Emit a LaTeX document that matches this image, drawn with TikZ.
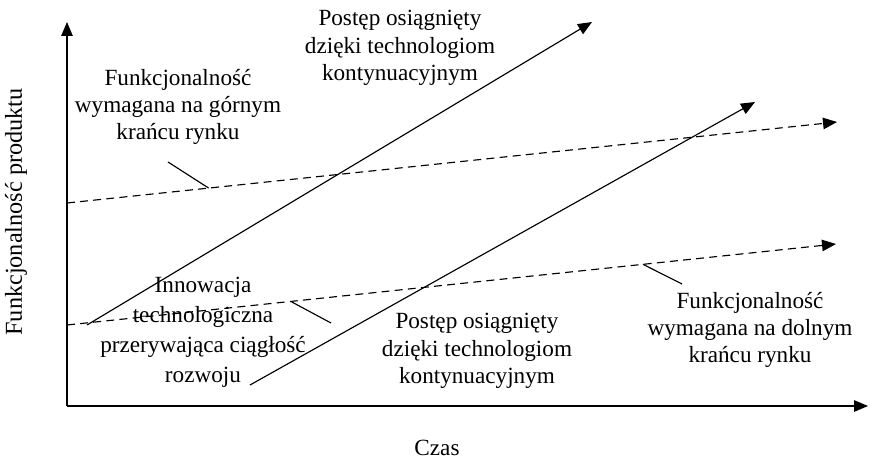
\documentclass[tikz,border=0pt]{standalone}
\usepackage{fontspec}
\setmainfont{Liberation Serif}
\usetikzlibrary{arrows.meta,calc}
\tikzset{
  lbl/.style={align=center, inner sep=0pt, font=\fontsize{13.2}{15.6}\selectfont},
  tip/.style={-{Triangle[length=0.28cm,width=0.23cm]}},
  dline/.style={dash pattern=on 4.5pt off 3pt}
}
\begin{document}
\begin{tikzpicture}[line width=0.65pt]
        \useasboundingbox (-1.34,-1.12) rectangle (16.08,8.12); % page size
        \coordinate (o) at (0,0); % origin
        \coordinate (ytop) at (0,7.68);
        \coordinate (xend) at (16.02,0);
        \draw[tip] (o) -- (ytop); % functionality axis
        \draw[tip] (o) -- (xend); % time axis
        \coordinate (hiL) at (0,4.06); % upper market end
        \coordinate (hiR) at (15.4,5.68);
        \coordinate (loL) at (0,1.62); % lower market end
        \coordinate (loR) at (15.38,3.24);
        \draw[dline,tip] (hiL) -- (hiR);
        \draw[dline,tip] (loL) -- (loR);
        \coordinate (s1) at (0.4,1.62); % first technology
        \coordinate (e1) at (10.5,7.68);
        \coordinate (s2) at (3.66,0.42); % disruptive technology
        \coordinate (e2) at (13.76,6.08);
        \draw[tip] (s1) -- (e1);
        \draw[tip] (s2) -- (e2);
        \node[lbl] (hitxt) at (2.22,5.98) {Funkcjonalność\\wymagana na górnym\\krańcu rynku};
        \node[lbl] (uptxt) at (6.66,7.16) {Postęp osiągnięty\\dzięki technologiom\\kontynuacyjnym};
        \node[lbl, font=\fontsize{13.2}{17}\selectfont] (innotxt) at (2.72,1.48) {Innowacja\\technologiczna\\przerywająca ciągłość\\rozwoju};
        \node[lbl] (downtxt) at (8.2,1.1) {Postęp osiągnięty\\dzięki technologiom\\kontynuacyjnym};
        \node[lbl] (lotxt) at (13.66,1.52) {Funkcjonalność\\wymagana na dolnym\\krańcu rynku};
        \node[lbl] (czas) at (7.4,-0.84) {Czas};
        \node[lbl, font=\fontsize{13.8}{15.6}\selectfont, rotate=90] (ylab) at (-1.02,3.88) {Funkcjonalność produktu};
        \coordinate (hiA) at (2.02,4.88); % leader lines
        \coordinate (hiB) at ($(hiL)!0.184!(hiR)$);
        \coordinate (inA) at ($(loL)!0.291!(loR)$);
        \coordinate (inB) at (5.28,1.66);
        \coordinate (loA) at ($(loL)!0.749!(loR)$);
        \coordinate (loB) at (12.3,2.44);
        \draw (hiA) -- (hiB);
        \draw (inA) -- (inB);
        \draw (loA) -- (loB);
      \end{tikzpicture}
\end{document}
